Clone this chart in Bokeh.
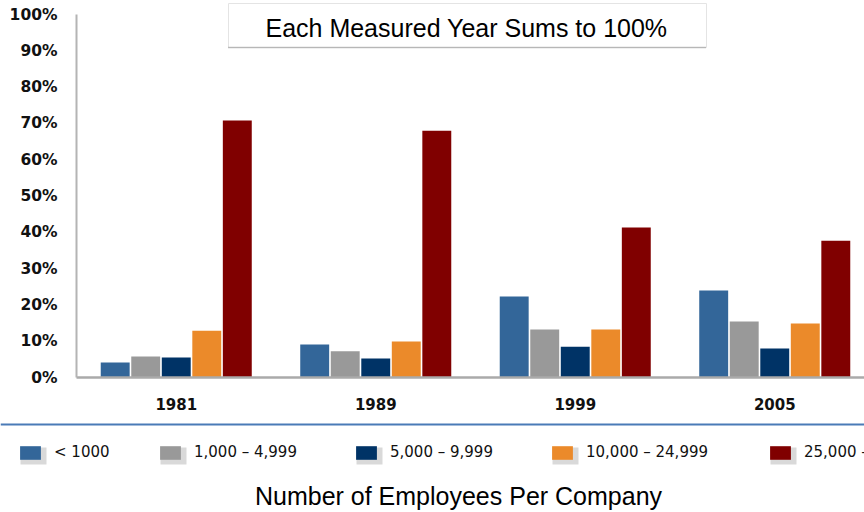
from bokeh.plotting import figure
from bokeh.models import (Range1d, FixedTicker, Legend, LegendItem, Span)
from bokeh.layouts import column
from bokeh.embed import file_html
from bokeh.resources import INLINE
from bokeh.core.properties import value

# ---- data ----
years = ["1981", "1989", "1999", "2005"]
series_names = ["< 1000", "1,000 \u2013 4,999", "5,000 \u2013 9,999", "10,000 \u2013 24,999", "25,000 \u2013 +"]
s_lt1000 = [4.1, 9.1, 22.3, 24.0]
s_1000_4999 = [5.8, 7.2, 13.2, 15.4]
s_5000_9999 = [5.5, 5.2, 8.5, 8.0]
s_10000_24999 = [12.9, 9.9, 13.2, 14.9]
s_25000_plus = [70.8, 68.0, 41.3, 37.7]
y_ticks = [0, 10, 20, 30, 40, 50, 60, 70, 80, 90, 100]
colors = ["#336699", "#999999", "#003366", "#EB8A2A", "#800000"]
series = [s_lt1000, s_1000_4999, s_5000_9999, s_10000_24999, s_25000_plus]

W = 864
H1 = 415
H2 = 512 - H1
FRAME_LEFT = 76
FRAME_BOTTOM = 377
PX_PER_CAT = 199.5
PX_PER_PCT = 3.63

x_end = (W - FRAME_LEFT) / PX_PER_CAT
y_end = FRAME_BOTTOM / PX_PER_PCT

p = figure(width=W, height=H1, output_backend="svg", toolbar_location=None,
           x_range=Range1d(0, x_end), y_range=Range1d(0, y_end),
           min_border_left=FRAME_LEFT, min_border_right=0, min_border_top=0,
           min_border_bottom=H1 - FRAME_BOTTOM, title=None)
p.frame_align = False
p.outline_line_color = None
p.xgrid.visible = False
p.ygrid.visible = False
p.background_fill_color = "white"
p.border_fill_color = "white"

centers = [i + 0.5 for i in range(len(years))]
step = 0.153
bw = 0.145
for k, (vals, c) in enumerate(zip(series, colors)):
    xs = [cx + (k - 2) * step for cx in centers]
    p.vbar(x=xs, top=vals, bottom=0, width=bw, fill_color=c, line_color=None)

# y axis
ya = p.yaxis[0]
ya.ticker = FixedTicker(ticks=y_ticks)
ya.major_label_overrides = {t: f"{t}%" for t in y_ticks}
ya.bounds = (0, 100)
ya.axis_line_color = "#b4b4b4"
ya.axis_line_width = 2
ya.major_tick_line_color = None
ya.minor_tick_line_color = None
ya.major_label_text_font = "DejaVu Sans"
ya.major_label_text_font_style = "bold"
ya.major_label_text_font_size = "15.5px"
ya.major_label_text_color = "#111111"
ya.major_label_standoff = 13

xa = p.xaxis[0]
xa.ticker = FixedTicker(ticks=centers)
xa.major_label_overrides = {c: y for c, y in zip(centers, years)}
xa.axis_line_color = "#aaaaaa"
xa.axis_line_width = 2.5
xa.major_tick_line_color = None
xa.minor_tick_line_color = None
xa.major_label_text_font = "DejaVu Sans"
xa.major_label_text_font_style = "bold"
xa.major_label_text_font_size = "15px"
xa.major_label_text_color = "#111111"
xa.major_label_standoff = 14

# title box (pixel positions converted to data units)
def dx(px):
    return (px - FRAME_LEFT) / PX_PER_CAT

def dy(py):
    return (FRAME_BOTTOM - py) / PX_PER_PCT

p.quad(left=[dx(228)], right=[dx(706)], top=[dy(3)], bottom=[dy(47)],
       fill_color="white", line_color="#e4e4e4", line_width=1)
p.segment(x0=[dx(228)], x1=[dx(706)], y0=[dy(47)], y1=[dy(47)],
          line_color="#8a8a8a", line_width=1.5, line_dash="1 1")
p.text(x=[dx(466)], y=[dy(27)], text=["Each Measured Year Sums to 100%"],
       text_font=value("Liberation Sans"), text_font_size="25px",
       text_align="center", text_baseline="middle", text_color="#000000")

# ---- bottom panel: rule, legend, axis caption ----
p2 = figure(width=W, height=H2, output_backend="svg", toolbar_location=None,
            x_range=Range1d(0, W), y_range=Range1d(H2, 0),
            min_border=0, title=None)
p2.frame_align = False
p2.axis.visible = False
p2.xgrid.visible = False
p2.ygrid.visible = False
p2.outline_line_color = None
p2.background_fill_color = "white"
p2.border_fill_color = "white"

p2.add_layout(Span(location=9, dimension="width", line_color="#4a7bb7", line_width=2))

leg_x = [17, 157, 353, 549, 767]
sq_top = 29
sq_w = 26
sq_h = 17
# subtle shadows behind legend swatches
p2.quad(left=[x + 3 for x in leg_x], right=[x + sq_w + 3 for x in leg_x],
        top=[sq_top + 3] * 5, bottom=[sq_top + sq_h + 3] * 5,
        fill_color="#d9d9d9", line_color=None)

for lx, name, c in zip(leg_x, series_names, colors):
    # proxy renderer (point outside the visible range) used only for the legend swatch
    r = p2.vbar(x=[-1000], top=[0], width=1, fill_color=c, line_color=None)
    leg = Legend(items=[LegendItem(label=name, renderers=[r])],
                 location=(lx, H2 - sq_top - sq_h),
                 orientation="horizontal", padding=0, margin=0,
                 glyph_width=sq_w, glyph_height=sq_h, label_standoff=11,
                 label_height=sq_h,
                 border_line_alpha=0, background_fill_alpha=0,
                 label_text_font="DejaVu Sans", label_text_font_size="15px",
                 label_text_color="#111111")
    p2.add_layout(leg)

p2.text(x=[458], y=[80], text=["Number of Employees Per Company"],
        text_font=value("Liberation Sans"), text_font_size="25px",
        text_align="center", text_baseline="middle", text_color="#000000")

layout = column(p, p2, spacing=0)
open("out.html", "w").write(file_html(layout, INLINE))
